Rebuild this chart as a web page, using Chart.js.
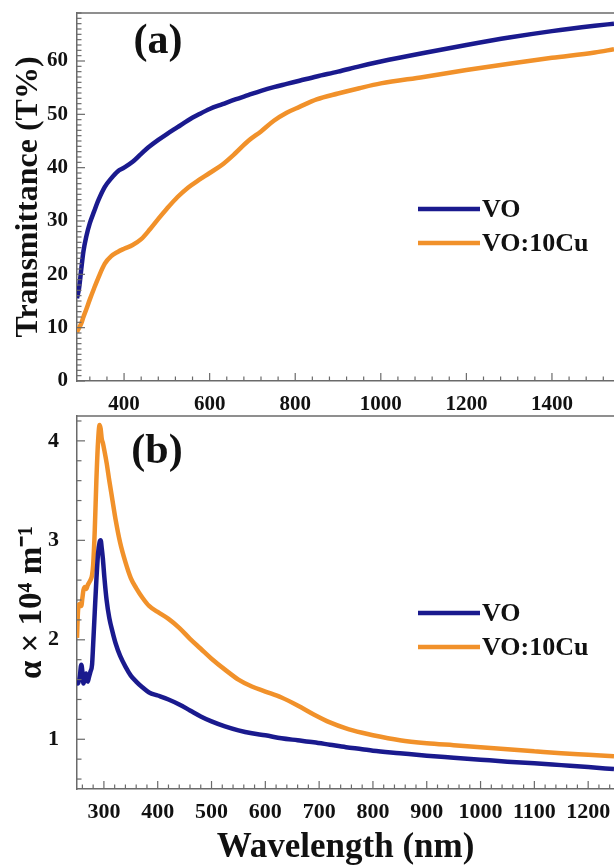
<!DOCTYPE html>
<html lang="en">
<head>
  <meta charset="UTF-8" />
  <title>Transmittance and absorption coefficient</title>
  <style>
    html, body {
      margin: 0;
      padding: 0;
      background: #fff;
      overflow: hidden;
    }
    body {
      width: 614px;
      height: 866px;
      position: relative;
    }
    canvas {
      position: absolute;
      left: 0;
    }
    #chartA { top: 0; }
    #chartB { top: 405px; }
  </style>
</head>
<body>

<canvas id="chartA" width="614" height="420"></canvas>
<canvas id="chartB" width="614" height="461"></canvas>

<script src="https://cdn.jsdelivr.net/npm/chart.js"></script>

<script>
  // ---- data ----
  const seriesLabels = ['VO', 'VO:10Cu'];

  // (a) transmittance, T%
  const waveA = [290, 295, 300, 305, 312, 320, 330, 340, 355, 370, 385, 400, 420, 440, 460, 480, 500,
    525, 550, 575, 600, 630, 660, 690, 720, 750, 780, 810, 850, 900, 950, 1000, 1100, 1200, 1300,
    1400, 1500, 1545];
  const transVO = [15.5, 17.5, 21.0, 24.3, 27.2, 29.6, 31.8, 33.9, 36.4, 38.0, 39.3, 40.0, 41.1, 42.6,
    44.0, 45.2, 46.3, 47.6, 48.9, 50.0, 51.0, 51.9, 52.8, 53.6, 54.4, 55.1, 55.7, 56.3, 57.1, 58.0,
    59.0, 59.9, 61.5, 63.0, 64.4, 65.6, 66.6, 67.0];
  const transVOCu = [9.2, 10.0, 10.8, 12.0, 13.5, 15.3, 17.4, 19.4, 22.0, 23.4, 24.2, 24.8, 25.5, 26.6,
    28.4, 30.4, 32.3, 34.5, 36.3, 37.7, 39.0, 40.6, 42.7, 45.0, 46.8, 48.8, 50.3, 51.4, 52.8, 53.9,
    54.9, 55.8, 57.0, 58.3, 59.5, 60.6, 61.6, 62.2];

  // (b) absorption coefficient, x 10^4 m^-1
  const waveB = [250, 252, 255, 258, 260, 262, 265, 267, 270, 272, 275, 278, 280, 283, 286, 289, 292,
    294, 296, 298, 301, 305, 310, 316, 322, 330, 340, 350, 360, 372, 384, 400, 420, 440, 460, 480,
    500, 525, 550, 575, 600, 630, 660, 690, 720, 750, 780, 800, 850, 900, 950, 1000, 1050, 1100,
    1150, 1200, 1248];
  const alphaVO = [1.58, 1.56, 1.62, 1.75, 1.68, 1.56, 1.62, 1.66, 1.58, 1.62, 1.68, 1.75, 1.95, 2.28,
    2.60, 2.86, 2.98, 3.00, 2.92, 2.82, 2.62, 2.40, 2.22, 2.08, 1.96, 1.84, 1.73, 1.64, 1.58, 1.52,
    1.47, 1.44, 1.40, 1.35, 1.29, 1.23, 1.18, 1.13, 1.09, 1.06, 1.04, 1.01, 0.99, 0.97, 0.945, 0.92,
    0.90, 0.885, 0.86, 0.835, 0.815, 0.795, 0.775, 0.76, 0.74, 0.72, 0.70];
  const alphaVOCu = [2.02, 2.30, 2.36, 2.34, 2.42, 2.50, 2.53, 2.51, 2.55, 2.57, 2.60, 2.65, 2.75, 3.10,
    3.60, 3.98, 4.16, 4.12, 4.02, 3.98, 3.90, 3.78, 3.60, 3.40, 3.20, 2.98, 2.78, 2.62, 2.52, 2.42,
    2.34, 2.28, 2.21, 2.12, 2.01, 1.91, 1.81, 1.70, 1.60, 1.53, 1.48, 1.42, 1.34, 1.25, 1.17, 1.11,
    1.065, 1.04, 0.99, 0.96, 0.94, 0.92, 0.90, 0.88, 0.86, 0.845, 0.83];

  // tick labels
  const ticksAX = [400, 600, 800, 1000, 1200, 1400];
  const ticksAY = [0, 10, 20, 30, 40, 50, 60];
  const ticksBX = [300, 400, 500, 600, 700, 800, 900, 1000, 1100, 1200];
  const ticksBY = [1, 2, 3, 4];

  // ---- styling ----
  const FONT = '"Liberation Serif", "Times New Roman", serif';
  const INK = '#111';
  const AXIS = '#6a6a6a';
  const colors = ['#1a1a8e', '#f1912a'];

  function toPoints(xs, ys) {
    return xs.map((x, i) => ({ x: x, y: ys[i] }));
  }

  // inward ticks, top border, legend and panel letter
  const framePlugin = {
    id: 'frame',
    afterDraw(chart, args, opts) {
      const ctx = chart.ctx;
      const a = chart.chartArea;
      const xs = chart.scales.x;
      const ys = chart.scales.y;

      ctx.save();
      ctx.strokeStyle = AXIS;
      ctx.lineWidth = 1.5;

      ctx.beginPath();
      ctx.moveTo(a.left, a.top);
      ctx.lineTo(a.right + 5, a.top);
      ctx.stroke();

      ctx.lineWidth = 1.2;
      const drawTicks = (scale, step, horizontal) => {
        const majors = scale.ticks.map(t => t.value);
        const k0 = Math.ceil(scale.min / step - 1e-9);
        const k1 = Math.floor(scale.max / step + 1e-9);
        for (let k = k0; k <= k1; k++) {
          const v = k * step;
          const isMajor = majors.some(m => Math.abs(m - v) < step / 10);
          const len = isMajor ? 8 : 4.5;
          const p = scale.getPixelForValue(v);
          ctx.beginPath();
          if (horizontal) {
            ctx.moveTo(p, a.bottom);
            ctx.lineTo(p, a.bottom - len);
          } else {
            ctx.moveTo(a.left, p);
            ctx.lineTo(a.left + len, p);
          }
          ctx.stroke();
        }
      };
      drawTicks(xs, opts.minorX, true);
      drawTicks(ys, opts.minorY, false);

      // legend
      ctx.lineWidth = 4.5;
      ctx.lineCap = 'butt';
      ctx.font = 'bold 26px ' + FONT;
      ctx.fillStyle = INK;
      ctx.textBaseline = 'middle';
      ctx.textAlign = 'left';
      chart.data.datasets.forEach((ds, i) => {
        const ly = a.top + opts.legendTop + i * 34;
        ctx.strokeStyle = ds.borderColor;
        ctx.beginPath();
        ctx.moveTo(a.left + 341, ly);
        ctx.lineTo(a.left + 403, ly);
        ctx.stroke();
        ctx.fillText(ds.label, a.left + 405, ly + 1);
      });

      // panel letter
      ctx.font = 'bold 42px ' + FONT;
      ctx.textAlign = 'center';
      ctx.textBaseline = 'alphabetic';
      ctx.fillText(opts.letter, opts.letterX, a.top + opts.letterY);

      ctx.restore();
    }
  };

  function makePanel(id, cfg) {
    const ctx = document.getElementById(id).getContext('2d');
    return new Chart(ctx, {
      type: 'line',
      data: {
        datasets: cfg.series.map((s, i) => ({
          label: seriesLabels[i],
          data: toPoints(cfg.xs, s),
          borderColor: colors[i],
          borderWidth: 4.5,
          pointRadius: 0,
          fill: false,
          cubicInterpolationMode: 'monotone'
        }))
      },
      options: {
        responsive: false,
        animation: false,
        events: [],
        layout: { padding: { top: cfg.top, right: 0, bottom: 0, left: 0 } },
        plugins: {
          legend: { display: false },
          tooltip: { enabled: false },
          frame: cfg.frame
        },
        scales: {
          x: {
            type: 'linear',
            min: cfg.xMin,
            max: cfg.xMax,
            afterBuildTicks: s => { s.ticks = cfg.xTicks.map(v => ({ value: v })); },
            afterFit: s => {
              s.height = cfg.xHeight;
              s.paddingLeft = 0;
              s.paddingRight = 0;
            },
            grid: { display: false, drawTicks: false },
            border: { display: true, color: AXIS, width: 1.5 },
            ticks: {
              autoSkip: false,
              maxRotation: 0,
              padding: cfg.xPad,
              color: INK,
              font: { family: FONT, size: cfg.tickSize, weight: 'bold' },
              callback: v => String(v)
            },
            title: cfg.xTitle ? {
              display: true,
              text: cfg.xTitle,
              color: INK,
              font: { family: FONT, size: 35, weight: 'bold', lineHeight: 1 },
              padding: { top: 0, bottom: 1 }
            } : { display: false }
          },
          y: {
            type: 'linear',
            min: cfg.yMin,
            max: cfg.yMax,
            afterBuildTicks: s => { s.ticks = cfg.yTicks.map(v => ({ value: v })); },
            afterFit: s => {
              s.width = 77;
              s.paddingTop = 0;
              s.paddingBottom = 0;
            },
            grid: { display: false, drawTicks: false },
            border: { display: true, color: AXIS, width: 1.5 },
            ticks: {
              autoSkip: false,
              padding: cfg.yPad,
              color: INK,
              font: { family: FONT, size: cfg.tickSize, weight: 'bold' },
              callback: v => String(v)
            },
            title: {
              display: true,
              text: cfg.yTitle,
              color: INK,
              font: { family: FONT, size: cfg.yTitleSize, weight: 'bold', lineHeight: 1 },
              padding: { top: cfg.yTitlePad, bottom: 0 }
            }
          }
        }
      },
      plugins: [framePlugin]
    });
  }

  makePanel('chartA', {
    xs: waveA,
    series: [transVO, transVOCu],
    top: 13,
    xMin: 290, xMax: 1545, xTicks: ticksAX, xHeight: 39, xPad: 11,
    yMin: 0, yMax: 69, yTicks: ticksAY, yPad: 9,
    tickSize: 21,
    yTitle: 'Transmittance (T%)', yTitleSize: 32, yTitlePad: 13,
    frame: { minorX: 40, minorY: 1, legendTop: 196, letter: '(a)', letterX: 158, letterY: 40 }
  });

  makePanel('chartB', {
    xs: waveB,
    series: [alphaVO, alphaVOCu],
    top: 11,
    xMin: 250, xMax: 1248, xTicks: ticksBX, xHeight: 77, xPad: 10,
    xTitle: 'Wavelength (nm)',
    yMin: 0.5, yMax: 4.25, yTicks: ticksBY, yPad: 18,
    tickSize: 22,
    yTitle: 'α × 10⁴ m⁻¹', yTitleSize: 33, yTitlePad: 16,
    frame: { minorX: 20, minorY: 0.2, legendTop: 197, letter: '(b)', letterX: 157, letterY: 47 }
  });
</script>

</body>
</html>
